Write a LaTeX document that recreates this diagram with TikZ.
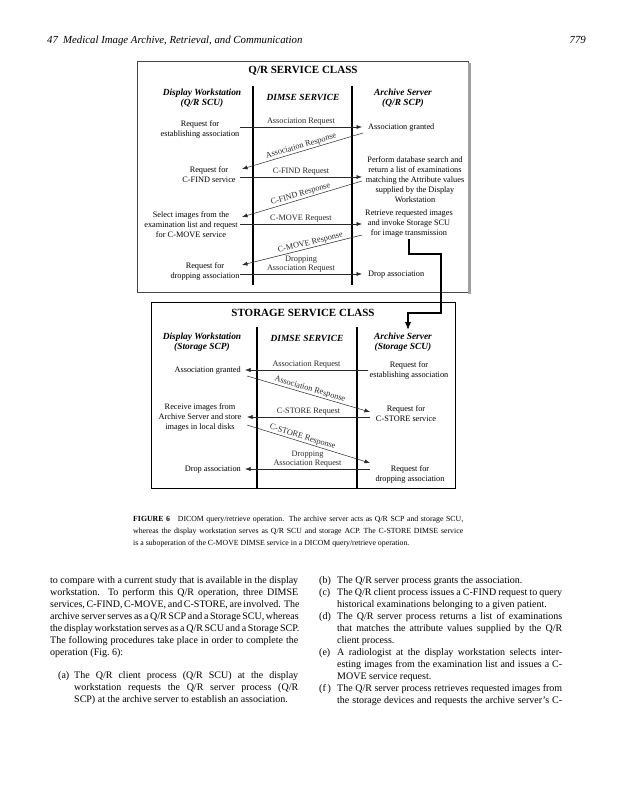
\documentclass[tikz,border=0pt]{standalone}
\usepackage{fontspec}
\setmainfont{Liberation Serif}
\usepackage{tikz}
\usetikzlibrary{arrows.meta}
\usepackage{xcolor}
\definecolor{FrameGray}{RGB}{70,70,70}
\definecolor{ShadowGray}{RGB}{160,160,160}
\definecolor{MsgGray}{RGB}{40,40,40}
\tikzstyle{FrameBox}=[draw=FrameGray,line width=0.8pt]
\tikzstyle{ShadowEdge}=[ShadowGray,line width=2.4pt]
\tikzstyle{LifeLine}=[black,line width=1.4pt]
\tikzstyle{MsgEdge}=[MsgGray,line width=0.5pt,-{Latex[length=5.5pt,width=4pt]}]
\tikzstyle{LinkEdge}=[black,line width=1.4pt,-{Latex[length=8pt,width=6.5pt]}]
\tikzstyle{ClassTitle}=[font=\fontsize{11}{12}\selectfont\bfseries,inner sep=0pt]
\tikzstyle{RoleText}=[font=\fontsize{9.4}{10}\selectfont\bfseries\itshape,align=center,inner sep=0pt]
\tikzstyle{StepText}=[font=\fontsize{8.3}{10}\selectfont,align=center,inner sep=1pt]
\tikzstyle{MsgText}=[font=\fontsize{8.3}{9.3}\selectfont,inner sep=1pt,align=center]
\tikzstyle{PageLine}=[anchor=base west,inner sep=0pt,font=\fontsize{10}{12}\selectfont]
\tikzstyle{CaptionLine}=[anchor=base west,inner sep=0pt,font=\fontsize{7.8}{12}\selectfont]
\tikzstyle{HeadLine}=[anchor=base west,inner sep=0pt,font=\fontsize{10.8}{12}\selectfont\itshape]
\newcommand{\FullLine}[2]{\makebox[#1][s]{#2}}

\begin{document}
\begin{tikzpicture}[x=1pt,y=-1pt]
    \useasboundingbox(0,0)rectangle(644,800);
    % running head
    \node[HeadLine](PageNo)at(47,44){47};
    \node[HeadLine](ChapTitle)at(63,44){Medical Image Archive, Retrieval, and Communication};
    \node[HeadLine,anchor=base east](PageNum)at(586,44){779};
    % Q/R service class
    \draw[FrameBox](137,61)rectangle(468,292);
    \draw[ShadowEdge](469.5,63)--(469.5,293.5);
    \node[ClassTitle](QTitle)at(303,71){Q/R SERVICE CLASS};
    \node[RoleText](QDisp)at(202,98.5){Display Workstation\\(Q/R SCU)};
    \node[RoleText](QDimse)at(303,97){DIMSE SERVICE};
    \node[RoleText](QArch)at(403,98.5){Archive Server\\(Q/R SCP)};
    \draw[LifeLine](253,86)--(253,285);
    \draw[LifeLine](352,86)--(352,285);
    \node[StepText](QReqAssoc)at(200,129.5){Request for\\establishing association};
    \node[StepText,anchor=west](QGrant)at(367,128){Association granted};
    \node[StepText](QReqFind)at(209,175){Request for\\C-FIND service};
    \node[StepText](QSearch)at(415,180){Perform database search and\\return a list of examinations\\matching the Attribute values\\supplied by the Display\\Workstation};
    \node[StepText](QSelect)at(191,225){Select images from the\\examination list and request\\for C-MOVE service};
    \node[StepText](QRet)at(409,224){Retrieve requested images\\and invoke Storage SCU\\for image transmission};
    \node[StepText](QReqDrop)at(205,271){Request for\\dropping association};
    \node[StepText,anchor=west](QDrop)at(367,274.5){Drop association};
    \coordinate(QL1)at(240,127);\coordinate(QR1)at(362,127);
    \coordinate(QL2)at(242,169);\coordinate(QR2)at(363,133);
    \coordinate(QL3)at(240,177);\coordinate(QR3)at(362,177);
    \coordinate(QL4)at(242,217);\coordinate(QR4)at(362,181);
    \coordinate(QL5)at(240,224);\coordinate(QR5)at(362,224);
    \coordinate(QL6)at(242,265);\coordinate(QR6)at(362,235);
    \coordinate(QL7)at(240,274);\coordinate(QR7)at(362,274);
    \draw[MsgEdge](QL1)--node[MsgText,above]{Association Request}(QR1);
    \draw[MsgEdge](QR2)--node[MsgText,above,sloped]{Association Response}(QL2);
    \draw[MsgEdge](QL3)--node[MsgText,above]{C-FIND Request}(QR3);
    \draw[MsgEdge](QR4)--node[MsgText,above,sloped]{C-FIND Response}(QL4);
    \draw[MsgEdge](QL5)--node[MsgText,above]{C-MOVE Request}(QR5);
    \draw[MsgEdge](QR6)--node[MsgText,above,sloped,pos=.42]{C-MOVE Response}(QL6);
    \draw[MsgEdge](QL7)--node[MsgText,above]{Dropping\\Association Request}(QR7);
    % storage service class
    \draw[FrameBox,draw=black](151,302)rectangle(455,488);
    \node[ClassTitle](STitle)at(303,313){STORAGE SERVICE CLASS};
    \node[RoleText](SDisp)at(202,342.5){Display Workstation\\(Storage SCP)};
    \node[RoleText](SDimse)at(307,338){DIMSE SERVICE};
    \node[RoleText](SArch)at(403,342.5){Archive Server\\(Storage SCU)};
    \draw[LifeLine](257,327)--(257,488);
    \draw[LifeLine](357,327)--(357,488);
    \node[StepText,anchor=east](SGrant)at(242,371){Association granted};
    \node[StepText](SReqAssoc)at(409,370.5){Request for\\establishing association};
    \node[StepText](SRecv)at(200,417){Receive images from\\Archive Server and store\\images in local disks};
    \node[StepText](SReqStore)at(406,413.5){Request for\\C-STORE service};
    \node[StepText,anchor=east](SDrop)at(242,470){Drop association};
    \node[StepText](SReqDrop)at(410,474.5){Request for\\dropping association};
    \coordinate(SR1)at(368,370);\coordinate(SL1)at(245,370);
    \coordinate(SL2)at(247,376);\coordinate(SR2)at(370,412);
    \coordinate(SR3)at(370,417);\coordinate(SL3)at(247,417);
    \coordinate(SL4)at(247,425);\coordinate(SR4)at(370,463);
    \coordinate(SR5)at(370,469);\coordinate(SL5)at(245,469);
    \draw[MsgEdge](SR1)--node[MsgText,above]{Association Request}(SL1);
    \draw[MsgEdge](SL2)--node[MsgText,above,sloped]{Association Response}(SR2);
    \draw[MsgEdge](SR3)--node[MsgText,above]{C-STORE Request}(SL3);
    \draw[MsgEdge](SL4)--node[MsgText,above,sloped,pos=.44]{C-STORE Response}(SR4);
    \draw[MsgEdge](SR5)--node[MsgText,above]{Dropping\\Association Request}(SL5);
    % C-MOVE hands over to C-STORE
    \coordinate(SArchTop)at(408,330);
    \draw[LinkEdge](QRet.south)|-(441,254)|-(408,313)--(SArchTop);
    % caption
    \node[CaptionLine](Cap1)at(133,521){\FullLine{330pt}{\textbf{FIGURE 6}\quad DICOM query/retrieve operation. The archive server acts as Q/R SCP and storage SCU,}};
    \node[CaptionLine](Cap2)at(133,533){\FullLine{330pt}{whereas the display workstation serves as Q/R SCU and storage ACP. The C-STORE DIMSE service}};
    \node[CaptionLine](Cap3)at(133,545){is a suboperation of the C-MOVE DIMSE service in a DICOM query/retrieve operation.};
    % left column
    \foreach \txt [count=\i from 0] in {
        {to compare with a current study that is available in the display},
        {workstation. To perform this Q/R operation, three DIMSE},
        {services, C-FIND, C-MOVE, and C-STORE, are involved. The},
        {archive server serves as a Q/R SCP and a Storage SCU, whereas},
        {the display workstation serves as a Q/R SCU and a Storage SCP.},
        {The following procedures take place in order to complete the}}
        \node[PageLine](L\i)at(50,583+12*\i){\FullLine{248pt}{\txt}};
    \node[PageLine](L6)at(50,655){operation (Fig.~6):};
    \node[PageLine](ItemA)at(58,678){(a)};
    \node[PageLine](A0)at(74,678){\FullLine{224pt}{The Q/R client process (Q/R SCU) at the display}};
    \node[PageLine](A1)at(74,690){\FullLine{224pt}{workstation requests the Q/R server process (Q/R}};
    \node[PageLine](A2)at(74,702){SCP) at the archive server to establish an association.};
    % right column
    \foreach \lab/\k in {(b)/0,(c)/1,(d)/3,(e)/6,(f\,)/9}
        \node[PageLine](I\k)at(319,583+12*\k){\lab};
    \node[PageLine](R0)at(337,583){The Q/R server process grants the association.};
    \foreach \txt/\k in {
        {The Q/R client process issues a C-FIND request to query}/1,
        {The Q/R server process returns a list of examinations}/3,
        {that matches the attribute values supplied by the Q/R}/4,
        {A radiologist at the display workstation selects inter-}/6,
        {esting images from the examination list and issues a C-}/7,
        {The Q/R server process retrieves requested images from}/9,
        {the storage devices and requests the archive server's C-}/10}
        \node[PageLine](R\k)at(337,583+12*\k){\FullLine{225pt}{\txt}};
    \node[PageLine](R2)at(337,607){historical examinations belonging to a given patient.};
    \node[PageLine](R5)at(337,643){client process.};
    \node[PageLine](R8)at(337,679){MOVE service request.};
\end{tikzpicture}
\end{document}
